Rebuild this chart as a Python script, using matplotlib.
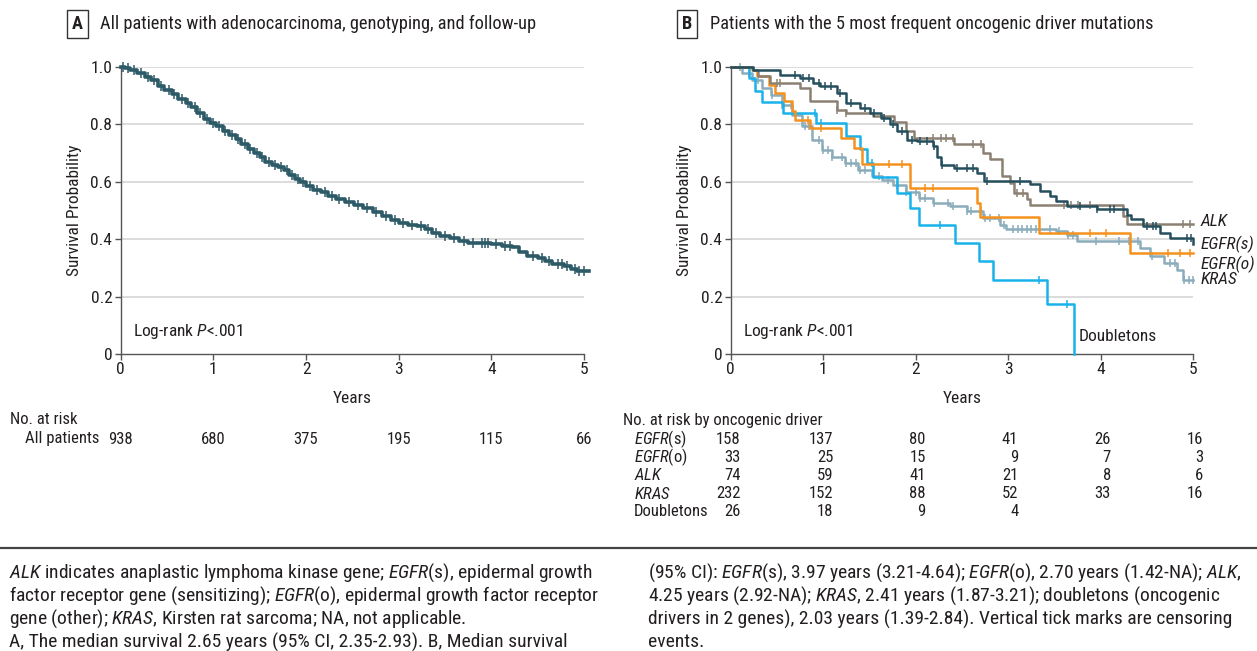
import numpy as np
import matplotlib
matplotlib.use('Agg')
import matplotlib.pyplot as plt
import matplotlib.transforms as mtransforms
from matplotlib import font_manager

# --- data ---
years = [0, 1, 2, 3, 4, 5]

# panel A: all patients (KM knots: time, survival)
all_t = [0.00, 0.05, 0.10, 0.18, 0.26, 0.33, 0.40, 0.47, 0.55, 0.62, 0.70, 0.76, 0.82, 0.90,
         0.96, 1.03, 1.10, 1.17, 1.24, 1.30, 1.37, 1.44, 1.50, 1.56, 1.63, 1.70, 1.76, 1.82,
         1.88, 1.94, 2.00, 2.08, 2.16, 2.24, 2.32, 2.42, 2.52, 2.62, 2.72, 2.82, 2.92, 3.00,
         3.10, 3.20, 3.28, 3.36, 3.45, 3.55, 3.65, 3.75, 3.85, 4.00, 4.12, 4.22, 4.30, 4.38,
         4.50, 4.58, 4.66, 4.78, 4.86, 4.92, 5.05]
all_s = [1.000, 0.995, 0.988, 0.978, 0.966, 0.955, 0.935, 0.920, 0.905, 0.890, 0.873, 0.860,
         0.840, 0.820, 0.805, 0.793, 0.778, 0.763, 0.748, 0.732, 0.715, 0.700, 0.685, 0.670,
         0.660, 0.650, 0.640, 0.625, 0.610, 0.598, 0.585, 0.573, 0.563, 0.550, 0.540, 0.530,
         0.520, 0.508, 0.495, 0.480, 0.467, 0.455, 0.450, 0.445, 0.435, 0.420, 0.410, 0.403,
         0.395, 0.388, 0.386, 0.384, 0.378, 0.372, 0.355, 0.340, 0.335, 0.325, 0.313, 0.305,
         0.295, 0.288, 0.288]
all_cens = [0.03, 0.08, 0.14, 0.22, 0.30, 0.36, 0.44, 0.52, 0.58, 0.66, 0.73, 0.80, 0.86, 0.93,
            1.00, 1.06, 1.13, 1.20, 1.27, 1.34, 1.40, 1.47, 1.53, 1.60, 1.66, 1.73, 1.79, 1.85,
            1.91, 1.97, 2.04, 2.12, 2.20, 2.28, 2.36, 2.46, 2.56, 2.66, 2.76, 2.86, 2.96, 3.05,
            3.14, 3.24, 3.32, 3.40, 3.50, 3.60, 3.70, 3.80, 3.90, 3.93, 3.96, 4.05, 4.15, 4.20,
            4.45, 4.55, 4.62, 4.72, 4.76, 4.82, 4.90, 4.95, 5.00]
all_risk = [938, 680, 375, 195, 115, 66]

# panel B: oncogenic drivers
egfrs_t = [0, 0.24, 0.53, 0.75, 0.89, 0.97, 1.15, 1.25, 1.40, 1.51, 1.62, 1.72, 1.80, 1.91,
           2.01, 2.19, 2.23, 2.27, 2.41, 2.66, 2.74, 3.24, 3.34, 3.45, 3.52, 3.63, 3.96,
           4.28, 4.33, 4.46, 4.64, 4.75, 5.0]
egfrs_s = [1.0, 0.988, 0.973, 0.96, 0.944, 0.933, 0.909, 0.874, 0.857, 0.84, 0.822, 0.80,
           0.776, 0.747, 0.741, 0.723, 0.688, 0.659, 0.648, 0.63, 0.603, 0.591, 0.568, 0.55,
           0.533, 0.515, 0.504, 0.486, 0.469, 0.445, 0.422, 0.405, 0.383]
egfrs_cens = [0.70, 0.78, 0.85, 0.95, 1.02, 1.08, 1.18, 1.30, 1.45, 1.55, 1.66, 1.75, 1.85,
              1.96, 2.05, 2.12, 2.20, 2.28, 2.45, 2.55, 2.62, 2.77, 3.13, 3.78, 3.96, 4.10,
              4.14, 4.50, 4.56, 4.60, 4.93, 4.98]

egfro_t = [0, 0.23, 0.28, 0.41, 0.48, 0.58, 0.66, 0.70, 0.86, 1.19, 1.33, 1.42, 1.94, 2.66,
           2.69, 3.33, 4.32, 5.0]
egfro_s = [1.0, 0.99, 0.967, 0.938, 0.909, 0.88, 0.845, 0.816, 0.787, 0.752, 0.717, 0.662,
           0.58, 0.527, 0.476, 0.423, 0.352, 0.352]
egfro_cens = [0.84, 0.98, 1.71, 1.85, 2.10, 2.19, 3.88, 4.06, 4.73, 4.86, 4.96]

alk_t = [0, 0.24, 0.30, 0.42, 0.75, 0.86, 1.15, 1.25, 1.54, 1.76, 1.89, 1.98, 2.41, 2.73,
         2.80, 2.93, 3.02, 3.06, 3.20, 3.24, 4.24, 4.28, 5.0]
alk_s = [1.0, 0.988, 0.97, 0.944, 0.927, 0.88, 0.85, 0.84, 0.828, 0.81, 0.776, 0.752, 0.731,
         0.702, 0.679, 0.62, 0.597, 0.562, 0.539, 0.518, 0.48, 0.453, 0.453]
alk_cens = [0.50, 0.53, 1.15, 1.25, 2.19, 2.27, 2.33, 2.40, 2.62, 2.70, 3.09, 3.16, 3.60,
            3.68, 3.75, 3.88, 4.89, 4.96]

kras_t = [0, 0.12, 0.23, 0.34, 0.44, 0.55, 0.66, 0.77, 0.88, 0.99, 1.10, 1.24, 1.38, 1.53,
          1.64, 1.75, 1.89, 2.04, 2.19, 2.37, 2.55, 2.73, 2.91, 2.98, 3.52, 3.63, 3.74, 4.35,
          4.42, 4.53, 4.68, 4.82, 4.89, 5.0]
kras_s = [1.0, 0.979, 0.956, 0.927, 0.903, 0.869, 0.834, 0.793, 0.747, 0.712, 0.688, 0.665,
          0.642, 0.619, 0.607, 0.59, 0.566, 0.543, 0.527, 0.515, 0.498, 0.475, 0.451, 0.434,
          0.428, 0.416, 0.393, 0.393, 0.37, 0.34, 0.317, 0.294, 0.259, 0.259]
kras_cens = [0.10, 0.20, 0.30, 0.45, 0.55, 0.65, 0.80, 0.85, 0.95, 1.00, 1.05, 1.10, 1.20,
             1.25, 1.30, 1.35, 1.40, 1.45, 1.60, 1.70, 1.80, 1.90, 2.00, 2.05, 2.10, 2.20,
             2.35, 2.40, 2.55, 2.60, 2.70, 2.75, 2.80, 2.90, 2.95, 3.05, 3.10, 3.15, 3.20,
             3.25, 3.30, 3.45, 3.55, 3.65, 3.70, 3.95, 4.20, 4.30, 4.40, 4.55, 4.75, 4.80,
             4.90, 4.95, 5.00]

dbl_t = [0, 0.20, 0.26, 0.34, 0.57, 0.92, 1.25, 1.40, 1.47, 1.54, 1.795, 1.94, 2.03, 2.42,
         2.68, 2.84, 3.42, 3.71]
dbl_s = [1.0, 0.962, 0.915, 0.878, 0.84, 0.805, 0.758, 0.714, 0.665, 0.615, 0.562, 0.51,
         0.451, 0.387, 0.323, 0.259, 0.175, 0.0]
dbl_cens = [0.91, 0.98, 1.53, 2.26, 3.33, 3.63]

driver_risk = [[158, 137, 80, 41, 26, 16],
               [33, 25, 15, 9, 7, 3],
               [74, 59, 41, 21, 8, 6],
               [232, 152, 88, 52, 33, 16],
               [26, 18, 9, 4]]

# --- fonts ---
names = {f.name for f in font_manager.fontManager.ttflist}
font = 'Roboto'
for cand in ['Roboto Condensed', 'Liberation Sans Narrow', 'Roboto']:
    if cand in names:
        font = cand
        break
plt.rcParams['font.family'] = [font, 'DejaVu Sans']
plt.rcParams['mathtext.fontset'] = 'custom'
plt.rcParams['mathtext.rm'] = font
plt.rcParams['mathtext.it'] = font + ':italic'

W, H = 1257, 651
TXT = '#231f20'
GRID = '#dcdcdc'
SPINE = '#555555'
FS = 12.5

fig = plt.figure(figsize=(W / 100, H / 100), dpi=100)


def fx(px):
    return px / W


def fy(py):
    return 1 - py / H


def km(ax, t, s, cens, color, lw=1.8, ms=6):
    t = np.asarray(t)
    s = np.asarray(s)
    ax.step(t, s, where='post', color=color, lw=lw, clip_on=False, zorder=3)
    c = np.asarray(cens)
    idx = np.searchsorted(t, c, side='right') - 1
    ax.plot(c, s[idx], ls='none', marker='|', ms=ms, mew=1.1, color=color,
            clip_on=False, zorder=3)


def style_axes(ax):
    ax.set_xlim(0, 5)
    ax.set_ylim(0, 1)
    ax.set_xticks(years)
    ax.set_yticks([0, 0.2, 0.4, 0.6, 0.8, 1.0])
    ax.set_yticklabels(['0', '0.2', '0.4', '0.6', '0.8', '1.0'])
    for y in [0.2, 0.4, 0.6, 0.8, 1.0]:
        ax.axhline(y, color=GRID, lw=1.4, zorder=0)
    for sp in ['top', 'right']:
        ax.spines[sp].set_visible(False)
    for sp in ['left', 'bottom']:
        ax.spines[sp].set_color(SPINE)
        ax.spines[sp].set_linewidth(1.0)
    ax.tick_params(direction='out', length=4, width=1, color=SPINE,
                   labelsize=FS, labelcolor=TXT, pad=2)
    ax.set_xlabel('Years', fontsize=FS, color=TXT, labelpad=10)
    ax.set_ylabel('Survival Probability', fontsize=FS, color=TXT, labelpad=6)
    ax.text(0.13, 0.08, r'Log-rank $\mathit{P}$<.001', fontsize=FS, color=TXT,
            va='center', transform=ax.transData)


# panel A
axA = fig.add_axes([fx(120.7), fy(354), (584 - 120.7) / W, 287 / H])
style_axes(axA)
km(axA, all_t, all_s, all_cens, '#2d5a67', lw=2.6, ms=7)

# panel B
axB = fig.add_axes([fx(730.7), fy(354), (1193.3 - 730.7) / W, 287 / H])
style_axes(axB)
km(axB, kras_t, kras_s, kras_cens, '#8aacbb')
km(axB, dbl_t, dbl_s, dbl_cens, '#19b2ea')
km(axB, egfro_t, egfro_s, egfro_cens, '#f5921e')
km(axB, alk_t, alk_s, alk_cens, '#8c8073')
km(axB, egfrs_t, egfrs_s, egfrs_cens, '#264f5e')

lab_kw = dict(fontsize=FS, color=TXT, va='center', style='italic')
axB.text(5.08, alk_s[-1] + 0.01, 'ALK', **lab_kw)
axB.text(5.08, egfrs_s[-1], 'EGFR(s)', **lab_kw)
axB.text(5.08, egfro_s[-1] - 0.04, 'EGFR(o)', **lab_kw)
axB.text(5.08, kras_s[-1], 'KRAS', **lab_kw)
axB.text(3.76, 0.06, 'Doubletons', fontsize=FS, color=TXT, va='center')

# panel headers
hdr = dict(fontsize=13.2, color=TXT, va='center')
box = dict(boxstyle='square,pad=0.25', fc='white', ec='#333333', lw=1.0)
fig.text(fx(72), fy(24), 'A', fontweight='bold', bbox=box, **hdr)
fig.text(fx(100), fy(24), 'All patients with adenocarcinoma, genotyping, and follow-up', **hdr)
fig.text(fx(682), fy(24), 'B', fontweight='bold', bbox=box, **hdr)
fig.text(fx(710), fy(24), 'Patients with the 5 most frequent oncogenic driver mutations', **hdr)

# risk tables
tk = dict(fontsize=12, color=TXT, va='center')
blendA = mtransforms.blended_transform_factory(axA.transData, fig.transFigure)
blendB = mtransforms.blended_transform_factory(axB.transData, fig.transFigure)
shiftB = blendB + mtransforms.ScaledTranslation(10 / 100, 0, fig.dpi_scale_trans)

fig.text(fx(10), fy(420), 'No. at risk', **tk)
fig.text(fx(99), fy(439), 'All patients', ha='right', **tk)
for yr, n in zip(years, all_risk):
    axA.text(yr, fy(439), str(n), ha='center', transform=blendA, **tk)

fig.text(fx(623), fy(420), 'No. at risk by oncogenic driver', **tk)
row_labels = [r'$\mathit{EGFR}$(s)', r'$\mathit{EGFR}$(o)', r'$\mathit{ALK}$', r'$\mathit{KRAS}$',
              'Doubletons']
for i, (lab, row) in enumerate(zip(row_labels, driver_risk)):
    yy = 439 + 18.2 * i
    fig.text(fx(634), fy(yy), lab, **tk)
    for yr, n in zip(years, row):
        axB.text(yr, fy(yy), str(n), ha='right', transform=shiftB, **tk)

# footnote
fig.add_artist(plt.Line2D([0, 1], [fy(548), fy(548)], color='#444444', lw=1.6))
fn = dict(fontsize=14, color=TXT, va='center')
left_lines = [
    r'$\mathit{ALK}$ indicates anaplastic lymphoma kinase gene; $\mathit{EGFR}$(s), epidermal growth',
    r'factor receptor gene (sensitizing); $\mathit{EGFR}$(o), epidermal growth factor receptor',
    r'gene (other); $\mathit{KRAS}$, Kirsten rat sarcoma; NA, not applicable.',
    'A, The median survival 2.65 years (95% CI, 2.35-2.93). B, Median survival',
]
right_lines = [
    r'(95% CI): $\mathit{EGFR}$(s), 3.97 years (3.21-4.64); $\mathit{EGFR}$(o), 2.70 years (1.42-NA); $\mathit{ALK}$,',
    r'4.25 years (2.92-NA); $\mathit{KRAS}$, 2.41 years (1.87-3.21); doubletons (oncogenic',
    'drivers in 2 genes), 2.03 years (1.39-2.84). Vertical tick marks are censoring',
    'events.',
]
for i, ln in enumerate(left_lines):
    fig.text(fx(9), fy(573 + 23 * i), ln, **fn)
for i, ln in enumerate(right_lines):
    fig.text(fx(648), fy(573 + 23 * i), ln, **fn)

fig.savefig('out.png', dpi=100)
